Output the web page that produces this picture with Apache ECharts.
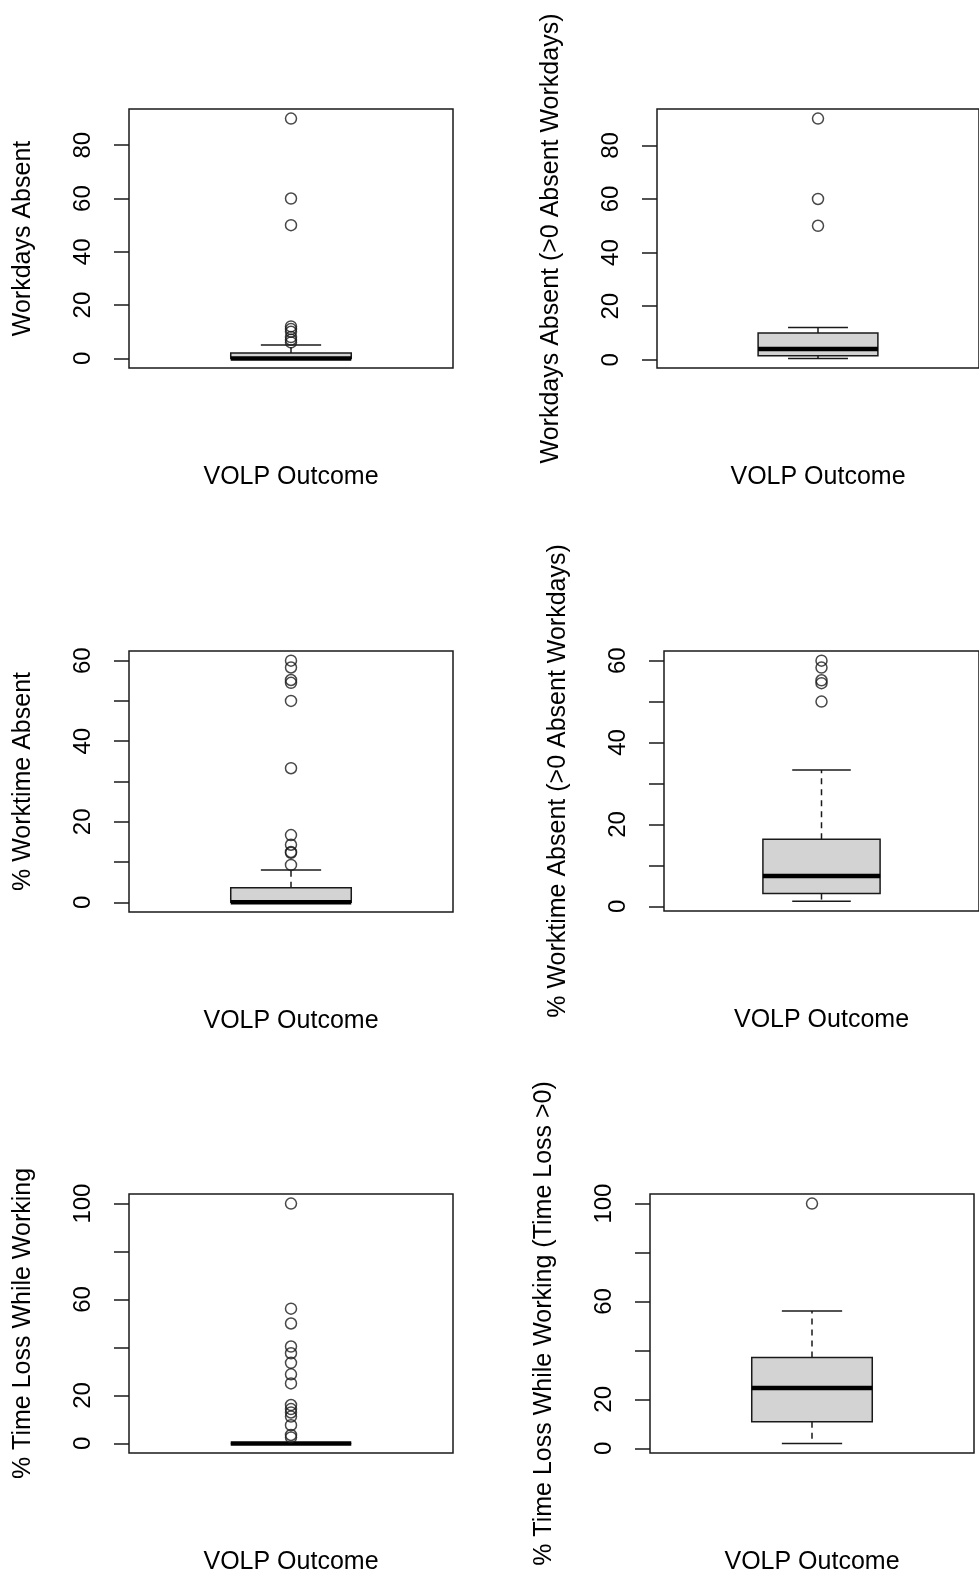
<!DOCTYPE html>
<html>
<head>
<meta charset="utf-8">
<script src="https://cdn.jsdelivr.net/npm/echarts@6.0.0/dist/echarts.min.js"></script>
<style>
  html, body { margin: 0; padding: 0; background: #fff; }
  #chart { width: 979px; height: 1579px; }
</style>
</head>
<body>
<div id="chart"></div>
<script>
// box stats per panel: [lower whisker, Q1, median, Q3, upper whisker]
const statsDays = [0, 0, 0, 2, 5];
const outDays = [6, 7, 8, 10, 11, 12, 50, 60, 90];
const statsDaysPos = [0.5, 1.5, 4, 10, 12];
const outDaysPos = [50, 60, 90];
const statsPct = [0, 0, 0, 3.6, 8];
const outPct = [9.3, 12.3, 12.5, 14.3, 16.7, 33.3, 50, 54.5, 55.2, 58.3, 60];
const statsPctPos = [1.2, 3.1, 7.4, 16.4, 33.3];
const outPctPos = [50, 54.5, 55.2, 58.3, 60];
const statsLoss = [0, 0, 0, 0, 0];
const outLoss = [2.5, 3.5, 7.6, 11.2, 12.9, 14.3, 16, 25, 28.8, 33.6, 37.6, 40.4, 50, 56.2, 100];
const statsLossPos = [2, 10.9, 24.6, 37.1, 56.1];
const outLossPos = [100];

// axis ticks and labels
const ticks90 = [0, 20, 40, 60, 80];
const labels90 = [0, 20, 40, 60, 80];
const ticks60 = [0, 10, 20, 30, 40, 50, 60];
const labels60 = [0, 20, 40, 60];
const ticks100 = [0, 20, 40, 60, 80, 100];
const labels100 = [0, 20, 60, 100];

const xTitle = 'VOLP Outcome';
const yTitles = [
  'Workdays Absent',
  'Workdays Absent (>0 Absent Workdays)',
  '% Worktime Absent',
  '% Worktime Absent (>0 Absent Workdays)',
  '% Time Loss While Working',
  '% Time Loss While Working (Time Loss >0)'
];

const allStats = [statsDays, statsDaysPos, statsPct, statsPctPos, statsLoss, statsLossPos];
const allOut = [outDays, outDaysPos, outPct, outPctPos, outLoss, outLossPos];
const allTicks = [ticks90, ticks90, ticks60, ticks60, ticks100, ticks100];
const allLabels = [labels90, labels90, labels60, labels60, labels100, labels100];

// plot regions [left, top, height]
const pos = [[129, 109, 259], [657, 109, 259], [129, 651, 261], [664, 651, 260], [129, 1194, 259], [650, 1194, 259]];

const FONT = 'Liberation Sans, Arial, sans-serif';
const INK = '#1a1a1a';
const LW = 1.5;

function renderBox(params, api) {
  const x = api.value(0);
  const lo = api.coord([x, api.value(1)]);
  const q1 = api.coord([x, api.value(2)]);
  const md = api.coord([x, api.value(3)]);
  const q3 = api.coord([x, api.value(4)]);
  const hi = api.coord([x, api.value(5)]);
  const band = api.size([1, 0])[0];
  const hw = band * 0.186;
  const sw = hw / 2;
  const cx = md[0];
  const ln = { stroke: INK, lineWidth: LW };
  return {
    type: 'group',
    children: [
      { type: 'line', shape: { x1: cx, y1: q3[1], x2: cx, y2: hi[1] }, style: Object.assign({ lineDash: [6, 5] }, ln) },
      { type: 'line', shape: { x1: cx, y1: q1[1], x2: cx, y2: lo[1] }, style: Object.assign({ lineDash: [6, 5] }, ln) },
      { type: 'line', shape: { x1: cx - sw, y1: hi[1], x2: cx + sw, y2: hi[1] }, style: ln },
      { type: 'line', shape: { x1: cx - sw, y1: lo[1], x2: cx + sw, y2: lo[1] }, style: ln },
      { type: 'rect', shape: { x: cx - hw, y: q3[1], width: hw * 2, height: q1[1] - q3[1] },
        style: { fill: '#d3d3d3', stroke: INK, lineWidth: LW } },
      { type: 'line', shape: { x1: cx - hw, y1: md[1], x2: cx + hw, y2: md[1] }, style: { stroke: '#000', lineWidth: 4.5 } }
    ]
  };
}

const grid = [], xAxis = [], yAxis = [], series = [];
for (let i = 0; i < 6; i++) {
  const st = allStats[i];
  const out = allOut[i];
  const top = Math.max(st[4], Math.max.apply(null, out));
  const bot = st[0];
  const pad = (top - bot) * 0.04;
  grid.push({ left: pos[i][0], top: pos[i][1], width: 324, height: pos[i][2],
    show: true, borderColor: INK, borderWidth: LW, backgroundColor: 'transparent' });
  xAxis.push({ type: 'category', gridIndex: i, data: [xTitle],
    name: xTitle, nameLocation: 'middle', nameGap: 97,
    nameTextStyle: { fontFamily: FONT, fontSize: 25, color: '#000' },
    axisLine: { show: false }, axisTick: { show: false }, axisLabel: { show: false } });
  yAxis.push({ type: 'value', gridIndex: i, min: bot - pad, max: top + pad,
    name: yTitles[i], nameLocation: 'middle', nameGap: 93, nameRotate: 90,
    nameTextStyle: { fontFamily: FONT, fontSize: 25, color: '#000' },
    axisLine: { show: false },
    splitLine: { show: false },
    axisTick: { show: true, inside: false, length: 15, customValues: allTicks[i],
      lineStyle: { color: INK, width: LW } },
    axisLabel: { show: true, rotate: 90, margin: 34, customValues: allLabels[i],
      fontFamily: FONT, fontSize: 24, color: '#000' } });
  series.push({ type: 'custom', xAxisIndex: i, yAxisIndex: i, renderItem: renderBox,
    encode: { x: 0, y: [1, 2, 3, 4, 5] }, data: [[0].concat(st)], silent: true, z: 2 });
  series.push({ type: 'scatter', xAxisIndex: i, yAxisIndex: i, symbol: 'circle', symbolSize: 11,
    itemStyle: { color: 'rgba(0,0,0,0)', borderColor: INK, borderWidth: LW },
    data: out.map(v => [0, v]), silent: true, z: 3 });
}

const chart = echarts.init(document.getElementById('chart'), null, { renderer: 'canvas' });
chart.setOption({ animation: false, backgroundColor: '#fff', grid, xAxis, yAxis, series });
</script>
</body>
</html>
